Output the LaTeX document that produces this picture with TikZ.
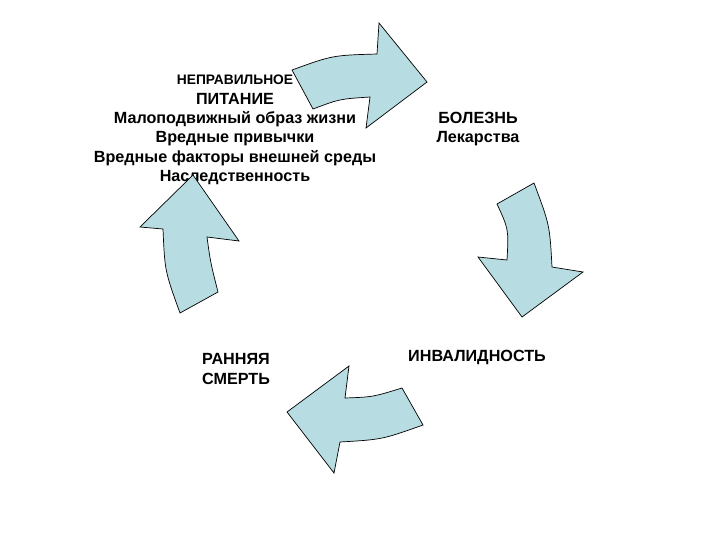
\documentclass[tikz,border=0pt]{standalone}
\usepackage{fontspec}
\setmainfont{Liberation Sans}
\usepackage{tikz}
\definecolor{arrowfill}{RGB}{183,220,225}

\begin{document}
\begin{tikzpicture}[x=0.025cm,y=-0.025cm,
    blockarrow/.style={fill=arrowfill,draw=black,line width=0.5pt,line join=miter},
    label/.style={font=\bfseries\fontsize{11.5}{13.8}\selectfont,align=center,inner sep=0pt}]
\useasboundingbox (0,0) rectangle (720,540);

\node[label] (cause) at (235,130) {{\fontsize{9.8}{13.8}\selectfont НЕПРАВИЛЬНОЕ}\\
    ПИТАНИЕ\\ Малоподвижный образ жизни\\ Вредные привычки\\
    Вредные факторы внешней среды\\ Наследственность};
\node[label] (ill) at (478,129) {БОЛЕЗНЬ\\ Лекарства};
\node[label] (inv) at (477,357) {ИНВАЛИДНОСТЬ};
\node[label] (death) at (236,369) {РАННЯЯ\\ СМЕРТЬ};

\draw[blockarrow] (292,70) .. controls (332.5,55.3) .. (377,54) -- (379,23) -- (427,82)
    -- (366,128) -- (370,97) .. controls (339.5,99) .. (313,109) -- cycle;
\draw[blockarrow] (497,204) -- (534,183) .. controls (549.7,225) .. (552,267) -- (583,272)
    -- (522,317) -- (478,257) -- (507,260) .. controls (508.7,229.3) .. cycle;
\draw[blockarrow] (402,388) -- (423,425) .. controls (382.2,439.5) .. (340,442) -- (334,473)
    -- (287,412) -- (349,366) -- (345,398) .. controls (372.8,397) .. cycle;
\draw[blockarrow] (180,313) -- (218,292) .. controls (210.5,262.5) .. (207,237) -- (239,241)
    -- (193,175) -- (140,227) -- (163,229) .. controls (164.8,271) .. cycle;
\end{tikzpicture}
\end{document}
